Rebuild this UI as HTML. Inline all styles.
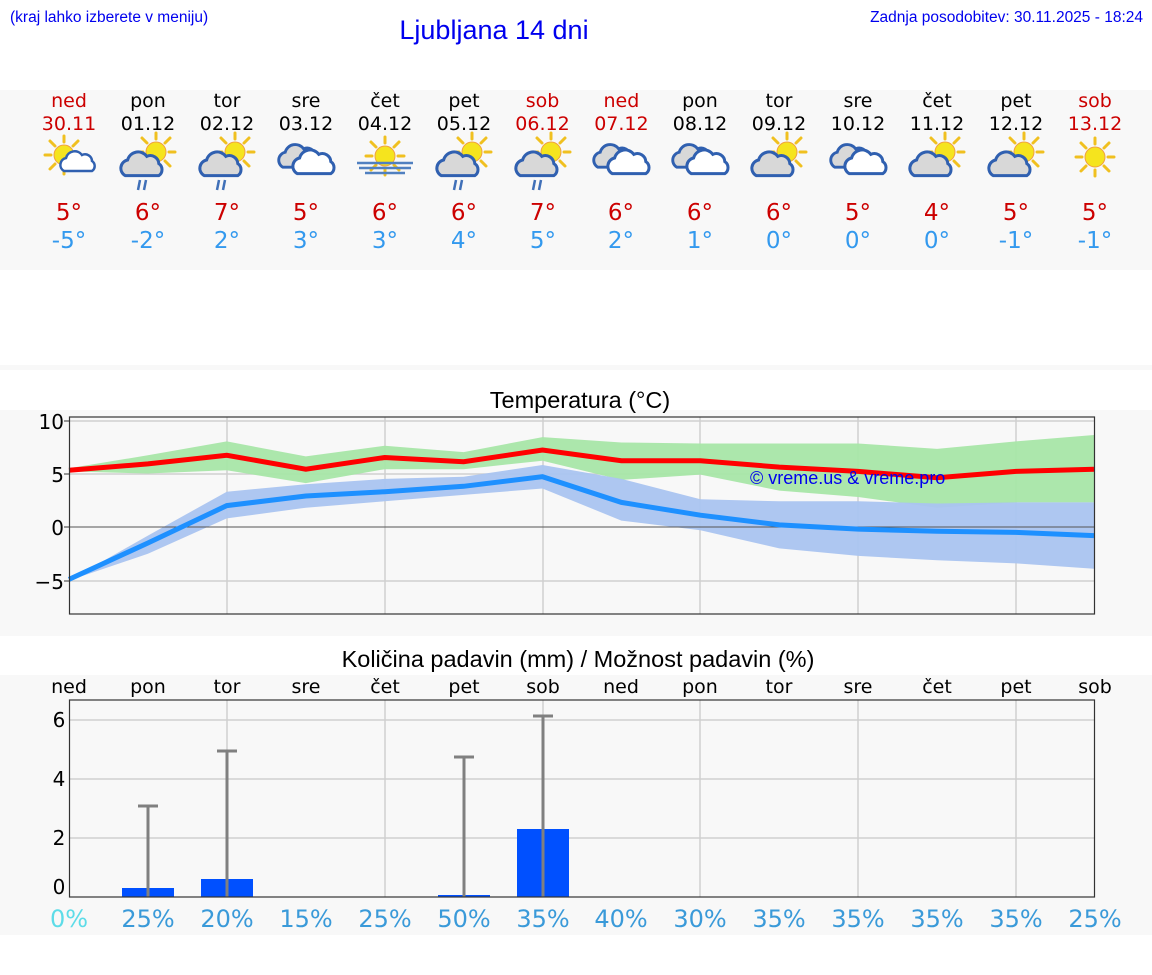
<!DOCTYPE html>
<html><head><meta charset="utf-8"><style>
html,body{margin:0;padding:0;background:#fff;width:1152px;height:975px;overflow:hidden}
svg{display:block}
.d{font-family:"DejaVu Sans",sans-serif;text-anchor:middle}
.l{font-family:"Liberation Sans",sans-serif}
</style></head><body>
<svg width="1152" height="975" viewBox="0 0 1152 975" xmlns="http://www.w3.org/2000/svg">
<defs>
<g id="sun"><g stroke="#f0c020" stroke-width="3" stroke-linecap="round">
<line x1="0" y1="-13" x2="0" y2="-19"/><line x1="0" y1="13" x2="0" y2="19"/><line x1="-13" y1="0" x2="-19" y2="0"/><line x1="13" y1="0" x2="19" y2="0"/>
<line x1="9" y1="9" x2="14" y2="14"/><line x1="-9" y1="-9" x2="-14" y2="-14"/><line x1="9" y1="-9" x2="14" y2="-14"/><line x1="-9" y1="9" x2="-14" y2="14"/></g>
<circle r="10" fill="#f5e41e" stroke="#f0a040" stroke-width="1"/></g>
<path id="cg" d="M-14 8 a7 7 0 0 1 2-13 a9 9 0 0 1 16-3 a7 7 0 0 1 10 6 a6 6 0 0 1 0 10 z" fill="#d8d8d8" stroke="#3060b0" stroke-width="2.5"/>
<path id="cw" d="M-14 8 a7 7 0 0 1 2-13 a9 9 0 0 1 16-3 a7 7 0 0 1 10 6 a6 6 0 0 1 0 10 z" fill="#fff" stroke="#3060b0" stroke-width="2.5"/>
<g id="rain" stroke="#4070b8" stroke-width="2.5"><line x1="-4" y1="0" x2="-6" y2="10"/><line x1="2" y1="0" x2="0" y2="10"/></g>
<g id="sgr"><use href="#sun" x="8" y="-6"/><g transform="translate(-6,8) scale(1.2)"><use href="#cg"/></g></g>
<g id="ovc"><g transform="translate(-7,-2) scale(1.15)"><use href="#cg"/></g><g transform="translate(8,4) scale(1.2)"><use href="#cw"/></g></g>
</defs>
<text x="10" y="22" class="l" style="font-size:15.5px" fill="#0000ee">(kraj lahko izberete v meniju)</text>
<text x="494" y="39" class="l" style="font-size:27px" fill="#0000ee" text-anchor="middle">Ljubljana 14 dni</text>
<text x="1143" y="22" class="l" style="font-size:15.5px" fill="#0000ee" text-anchor="end">Zadnja posodobitev: 30.11.2025 - 18:24</text>
<rect x="0" y="90" width="1152" height="180" fill="#f8f8f8"/>
<rect x="0" y="365" width="1152" height="5" fill="#f8f8f8"/>
<rect x="0" y="410" width="1152" height="226" fill="#f8f8f8"/>
<rect x="0" y="675" width="1152" height="260" fill="#f8f8f8"/>
<g class="d" style="font-size:19px">
<g fill="#cc0000"><text x="69" y="107">ned</text><text x="69" y="130">30.11</text><text x="542.5" y="107">sob</text><text x="542.5" y="130">06.12</text><text x="621.4" y="107">ned</text><text x="621.4" y="130">07.12</text><text x="1095" y="107">sob</text><text x="1095" y="130">13.12</text></g>
<g fill="#000"><text x="148" y="107">pon</text><text x="148" y="130">01.12</text><text x="227" y="107">tor</text><text x="227" y="130">02.12</text><text x="306" y="107">sre</text><text x="306" y="130">03.12</text><text x="385" y="107">čet</text><text x="385" y="130">04.12</text><text x="464" y="107">pet</text><text x="464" y="130">05.12</text><text x="700" y="107">pon</text><text x="700" y="130">08.12</text><text x="779" y="107">tor</text><text x="779" y="130">09.12</text><text x="858" y="107">sre</text><text x="858" y="130">10.12</text><text x="937" y="107">čet</text><text x="937" y="130">11.12</text><text x="1016" y="107">pet</text><text x="1016" y="130">12.12</text></g>
</g>
<g class="d" style="font-size:23px" fill="#cc0000"><text x="69" y="220">5°</text><text x="148" y="220">6°</text><text x="227" y="220">7°</text><text x="306" y="220">5°</text><text x="385" y="220">6°</text><text x="464" y="220">6°</text><text x="543" y="220">7°</text><text x="621" y="220">6°</text><text x="700" y="220">6°</text><text x="779" y="220">6°</text><text x="858" y="220">5°</text><text x="937" y="220">4°</text><text x="1016" y="220">5°</text><text x="1095" y="220">5°</text></g>
<g class="d" style="font-size:23px" fill="#3399ee"><text x="69" y="248">-5°</text><text x="148" y="248">-2°</text><text x="227" y="248">2°</text><text x="306" y="248">3°</text><text x="385" y="248">3°</text><text x="464" y="248">4°</text><text x="543" y="248">5°</text><text x="621" y="248">2°</text><text x="700" y="248">1°</text><text x="779" y="248">0°</text><text x="858" y="248">0°</text><text x="937" y="248">0°</text><text x="1016" y="248">-1°</text><text x="1095" y="248">-1°</text></g>
<!-- icons -->
<g transform="translate(66,155)"><use href="#sun" x="-2" y="0"/><g transform="translate(12,8)"><use href="#cw"/></g></g>
<g transform="translate(148,158)"><use href="#sgr"/><use href="#rain" x="-4" y="22"/></g>
<g transform="translate(227,158)"><use href="#sgr"/><use href="#rain" x="-4" y="22"/></g>
<g transform="translate(306,160)"><use href="#ovc"/></g>
<g transform="translate(385,158)"><use href="#sun" y="-2"/><g stroke="#5080c0" stroke-width="2.5"><line x1="-28" y1="5" x2="28" y2="5"/><line x1="-26" y1="10" x2="26" y2="10"/><line x1="-20" y1="15" x2="20" y2="15"/></g></g>
<g transform="translate(464,158)"><use href="#sgr"/><use href="#rain" x="-4" y="22"/></g>
<g transform="translate(543,158)"><use href="#sgr"/><use href="#rain" x="-4" y="22"/></g>
<g transform="translate(621,160)"><use href="#ovc"/></g>
<g transform="translate(700,160)"><use href="#ovc"/></g>
<g transform="translate(779,158)"><use href="#sgr"/></g>
<g transform="translate(858,160)"><use href="#ovc"/></g>
<g transform="translate(937,158)"><use href="#sgr"/></g>
<g transform="translate(1016,158)"><use href="#sgr"/></g>
<g transform="translate(1095,157)"><use href="#sun"/></g>

<!-- temperature chart -->
<text x="580" y="408" class="l" style="font-size:23.5px" text-anchor="middle" fill="#000">Temperatura (°C)</text>
<g stroke="#d0d0d0" stroke-width="1.5"><line x1="69" y1="421" x2="1094" y2="421"/><line x1="69" y1="474" x2="1094" y2="474"/><line x1="69" y1="581" x2="1094" y2="581"/>
<line x1="227" y1="417" x2="227" y2="614"/><line x1="385" y1="417" x2="385" y2="614"/><line x1="543" y1="417" x2="543" y2="614"/><line x1="700" y1="417" x2="700" y2="614"/><line x1="858" y1="417" x2="858" y2="614"/><line x1="1016" y1="417" x2="1016" y2="614"/></g>
<polygon fill="#a8e6a8" opacity="0.95" points="69,468.2 147.9,455.3 226.8,441.4 305.8,456.4 384.7,445.7 463.6,452.1 542.5,437.1 621.4,442.5 700.4,443.5 779.3,443.5 858.2,443.5 937.1,448.9 1016,441.4 1094,435 1094,502.4 1016,502.4 937.1,507.7 858.2,497 779.3,490.6 700.4,474.6 621.4,479.9 542.5,460.7 463.6,469.2 384.7,469.2 305.8,483.1 226.8,470.3 147.9,473.5 69,471.4"/>
<polygon fill="#aac4f0" opacity="0.95" points="69,580.5 147.9,535.6 226.8,491.7 305.8,484.2 384.7,478.9 463.6,476.7 542.5,465 621.4,478.9 700.4,499.2 779.3,501.3 858.2,501.3 937.1,503.5 1016,502.4 1094,502.4 1094,568.7 1016,563.4 937.1,560.2 858.2,555.9 779.3,548.4 700.4,530.2 621.4,520.6 542.5,488.5 463.6,494.9 384.7,501.3 305.8,507.7 226.8,518.4 147.9,553.8 69,580.5"/>
<line x1="69" y1="527" x2="1094" y2="527" stroke="#555" stroke-width="1"/>
<polyline fill="none" stroke="#ff0000" stroke-width="5" points="69,470.3 147.9,463.9 226.8,455.3 305.8,469.2 384.7,457.5 463.6,461.7 542.5,450 621.4,460.7 700.4,460.7 779.3,467.1 858.2,471.4 937.1,477.8 1016,471.4 1094,469.2"/>
<polyline fill="none" stroke="#1e90ff" stroke-width="5" points="69,579.4 147.9,543 226.8,505.6 305.8,496 384.7,491.7 463.6,486.3 542.5,476.7 621.4,502.4 700.4,515.2 779.3,524.9 858.2,529.1 937.1,531.3 1016,532.4 1094,535.6"/>
<text x="750" y="484" class="l" style="font-size:18px" fill="#0000ee">© vreme.us &amp; vreme.pro</text>
<rect x="69.5" y="417" width="1025" height="197" fill="none" stroke="#333" stroke-width="1.2"/>
<g stroke="#333" stroke-width="1"><line x1="64" y1="421" x2="69" y2="421"/><line x1="64" y1="474" x2="69" y2="474"/><line x1="64" y1="527" x2="69" y2="527"/><line x1="64" y1="581" x2="69" y2="581"/></g>
<g class="d" style="font-size:20px;text-anchor:end" fill="#000"><text x="64" y="429">10</text><text x="64" y="482">5</text><text x="64" y="535">0</text><text x="64" y="589">−5</text></g>

<!-- precip chart -->
<text x="578" y="667" class="l" style="font-size:23.5px" text-anchor="middle" fill="#000">Količina padavin (mm) / Možnost padavin (%)</text>
<g class="d" style="font-size:19px" fill="#000"><text x="69" y="693">ned</text><text x="148" y="693">pon</text><text x="227" y="693">tor</text><text x="306" y="693">sre</text><text x="385" y="693">čet</text><text x="464" y="693">pet</text><text x="543" y="693">sob</text><text x="621" y="693">ned</text><text x="700" y="693">pon</text><text x="779" y="693">tor</text><text x="858" y="693">sre</text><text x="937" y="693">čet</text><text x="1016" y="693">pet</text><text x="1095" y="693">sob</text></g>
<g stroke="#d0d0d0" stroke-width="1.5"><line x1="69" y1="720" x2="1094" y2="720"/><line x1="69" y1="779" x2="1094" y2="779"/><line x1="69" y1="838" x2="1094" y2="838"/>
<line x1="227" y1="700" x2="227" y2="897"/><line x1="385" y1="700" x2="385" y2="897"/><line x1="543" y1="700" x2="543" y2="897"/><line x1="700" y1="700" x2="700" y2="897"/><line x1="858" y1="700" x2="858" y2="897"/><line x1="1016" y1="700" x2="1016" y2="897"/></g>
<g fill="#0050ff"><rect x="122" y="888" width="52" height="9"/><rect x="201" y="879" width="52" height="18"/><rect x="438" y="895" width="52" height="2"/><rect x="517" y="829" width="52" height="68"/></g>
<g stroke="#808080" stroke-width="3"><line x1="148" y1="806" x2="148" y2="897"/><line x1="138" y1="806" x2="158" y2="806"/>
<line x1="227" y1="751" x2="227" y2="897"/><line x1="217" y1="751" x2="237" y2="751"/>
<line x1="464" y1="757" x2="464" y2="897"/><line x1="454" y1="757" x2="474" y2="757"/>
<line x1="543" y1="716" x2="543" y2="897"/><line x1="533" y1="716" x2="553" y2="716"/></g>
<rect x="69.5" y="700" width="1025" height="197" fill="none" stroke="#333" stroke-width="1.2"/>
<g class="d" style="font-size:20px" fill="#000"><text x="59" y="727">6</text><text x="59" y="786">4</text><text x="59" y="845">2</text><text x="59" y="894">0</text></g>
<g class="d" style="font-size:24px" fill="#3a9ad9"><text x="69" y="927" fill="#5ddce8">0%</text><text x="148" y="927">25%</text><text x="227" y="927">20%</text><text x="306" y="927">15%</text><text x="385" y="927">25%</text><text x="464" y="927">50%</text><text x="543" y="927">35%</text><text x="621" y="927">40%</text><text x="700" y="927">30%</text><text x="779" y="927">35%</text><text x="858" y="927">35%</text><text x="937" y="927">35%</text><text x="1016" y="927">35%</text><text x="1095" y="927">25%</text></g>
</svg>
</body></html>
